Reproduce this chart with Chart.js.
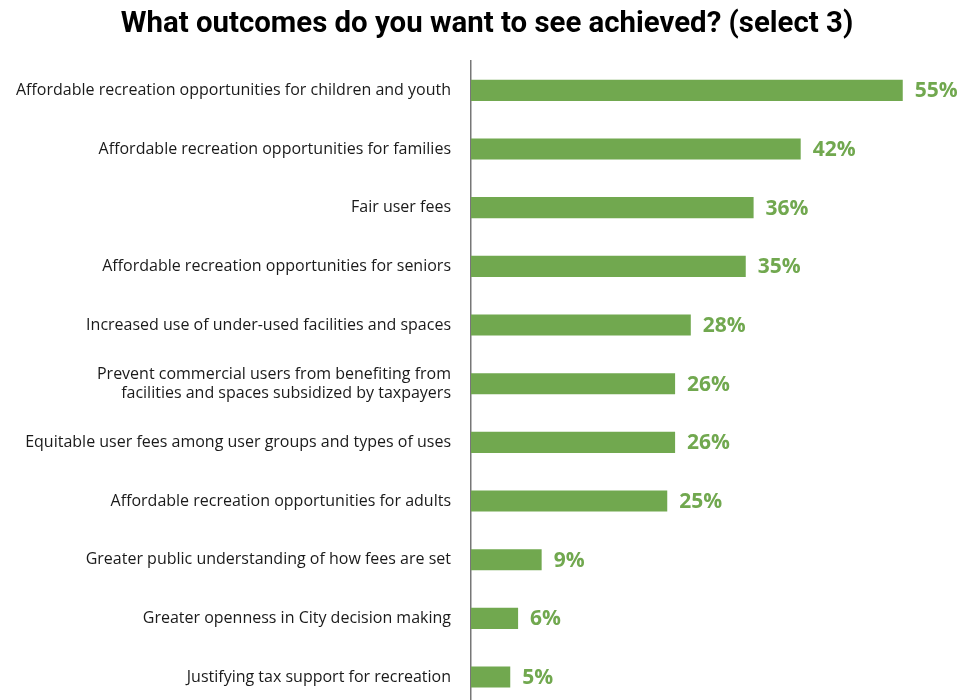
<!DOCTYPE html>
<html>
<head>
<meta charset="utf-8">
<script src="https://cdn.jsdelivr.net/npm/chart.js@4/dist/chart.umd.min.js"></script>
<style>
  html, body { margin: 0; padding: 0; background: #fff; overflow: hidden; }
  canvas { display: block; }
</style>
</head>
<body>
<!-- taller than the window: the y scale keeps ~30px below its last tick -->
<canvas id="outcomes" width="974" height="736"></canvas>
<script>
  const chartTitle = "What outcomes do you want to see achieved? (select 3)";

  const categories = [
    "Affordable recreation opportunities for children and youth",
    "Affordable recreation opportunities for families",
    "Fair user fees",
    "Affordable recreation opportunities for seniors",
    "Increased use of under-used facilities and spaces",
    ["Prevent commercial users from benefiting from", "facilities and spaces subsidized by taxpayers"],
    "Equitable user fees among user groups and types of uses",
    "Affordable recreation opportunities for adults",
    "Greater public understanding of how fees are set",
    "Greater openness in City decision making",
    "Justifying tax support for recreation"
  ];
  const percents = [55, 42, 36, 35, 28, 26, 26, 25, 9, 6, 5];

  const green = "#71a84f";

  // title + value labels drawn by hand
  const extras = {
    id: "extras",
    afterDatasetsDraw(chart) {
      const ctx = chart.ctx;
      ctx.save();
      ctx.fillStyle = "#000";
      ctx.font = "bold 29.4px 'Roboto', sans-serif";
      ctx.textAlign = "center";
      ctx.textBaseline = "middle";
      ctx.fillText(chartTitle, 487, 25);

      const meta = chart.getDatasetMeta(0);
      ctx.fillStyle = green;
      ctx.font = "bold 21px 'Open Sans', sans-serif";
      ctx.textAlign = "left";
      meta.data.forEach((bar, i) => {
        ctx.fillText(percents[i] + "%", bar.x + 12, bar.y + 1);
      });
      ctx.restore();
    }
  };

  new Chart(document.getElementById("outcomes"), {
    type: "bar",
    data: {
      labels: categories,
      datasets: [{
        data: percents,
        backgroundColor: green,
        borderWidth: 0,
        barPercentage: 0.36,
        categoryPercentage: 1
      }]
    },
    options: {
      indexAxis: "y",
      responsive: false,
      animation: false,
      layout: { padding: { top: 61, right: 32, bottom: 0, left: 0 } },
      plugins: { legend: { display: false }, title: { display: false }, tooltip: { enabled: false } },
      scales: {
        x: { display: false, min: 0, max: 60 },
        y: {
          afterFit(scale) { scale.width = 471; },
          grid: { display: false, drawTicks: false },
          border: { display: true, color: "#777", width: 1.5 },
          ticks: {
            color: "#1a1a1a",
            padding: 20,
            font: { family: "'Open Sans', sans-serif", size: 16 }
          }
        }
      }
    },
    plugins: [extras]
  });
</script>
</body>
</html>
